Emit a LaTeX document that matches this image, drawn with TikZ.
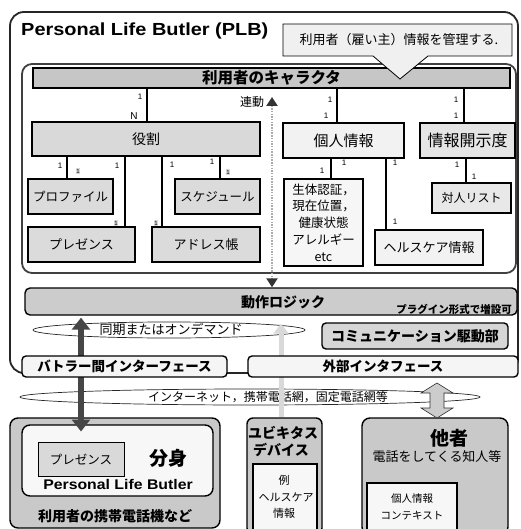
\documentclass[tikz,border=0pt]{standalone}
\usepackage{fontspec}
\setmainfont{Liberation Sans}
\newfontfamily\jp{Noto Sans CJK JP}
\usetikzlibrary{arrows.meta,calc}
\newcommand\myfs[1]{\fontsize{#1}{#1}\selectfont}
\begin{document}
\begin{tikzpicture}[x=1pt,y=-1pt,
  box/.style={draw=black,line width=1.4pt,inner sep=0pt,fill=gray!28},
  conn/.style={draw=black,line width=2pt},
  lbl/.style={font=\myfs{8},inner sep=0pt},
  badge/.style={font=\myfs{6},fill=gray!30,inner sep=0.8pt},
  bigbox/.style={draw=black,line width=1.4pt,rounded corners=8pt,inner sep=0pt,fill=gray!42},
  wbox/.style={draw=black,line width=1.4pt,inner sep=0pt,fill=gray!6},
  ring/.style={draw=gray!30!black,line width=0.7pt},
  ifbox/.style={draw=black,line width=1.4pt,rounded corners=4pt,inner sep=0pt,fill=gray!8,font=\jp\bfseries\myfs{13.5}},
]
\useasboundingbox (0,0) rectangle (520,529);

% outer PLB frame
\draw[line width=1.8pt,draw=gray!30!black,rounded corners=14pt] (10,12) rectangle (518,373);
\node[anchor=west,font=\bfseries\myfs{17.5},inner sep=0pt] (title) at (21,31) {\scalebox{1.14}[1]{Personal Life Butler (PLB)}};

% inner frame
\draw[line width=1.8pt,draw=gray!50!black,rounded corners=10pt] (22,64) rectangle (516,273);

% character bar
\node[box,fill=gray!45,minimum width=477pt,minimum height=20pt,font=\jp\bfseries\myfs{15.5}] (char) at (271.5,78) {利用者のキャラクタ};

% callout
\draw[fill=gray!12,draw=black,line width=0.8pt] (283,24) -- (512,24) -- (512,56) -- (428,56) -- (400,79) -- (373,56) -- (283,56) -- cycle;
\node[font=\jp\myfs{13},inner sep=0pt] (callout) at (399,40) {利用者（雇い主）情報を管理する.};

% role group
\node[box,fill=gray!30,minimum width=228pt,minimum height=34pt,font=\jp\myfs{14}] (role) at (146,139) {役割};
\node[box,minimum width=85pt,minimum height=35pt,font=\jp\myfs{12.5}] (prof) at (70.5,196.5) {プロファイル};
\node[box,minimum width=85pt,minimum height=35pt,font=\jp\myfs{12.5}] (sched) at (217.5,196.5) {スケジュール};
\node[box,minimum width=107pt,minimum height=35pt,font=\jp\myfs{13}] (pres) at (81.5,244.5) {プレゼンス};
\node[box,minimum width=108pt,minimum height=35pt,font=\jp\myfs{13}] (addr) at (206,244.5) {アドレス帳};

% personal info group
\node[box,fill=gray!10,minimum width=121pt,minimum height=35pt,font=\jp\myfs{15}] (pinfo) at (343.5,140.5) {個人情報};
\node[box,fill=gray!20,minimum width=95pt,minimum height=35pt,font=\jp\myfs{16}] (disc) at (467.5,140.5) {情報開示度};
\node[box,fill=gray!7,minimum width=79pt,minimum height=87pt,align=center,font=\jp\fontsize{12.5}{16.7}\selectfont] (bio) at (323.5,222.5) {生体認証，\\現在位置，\\健康状態\\アレルギー\\etc};
\node[box,fill=gray!10,minimum width=108pt,minimum height=35pt,font=\jp\myfs{13}] (health) at (429,247.5) {ヘルスケア情報};
\node[box,fill=gray!18,minimum width=79pt,minimum height=30pt,font=\jp\myfs{12}] (person) at (471.5,198) {対人リスト};

% connectors
\draw[conn] ($(role.north)+(1,0)$) -- ($(role.north |- char.south)+(1,0)$);
\draw[conn] ($(pinfo.north)+(-6.5,0)$) -- ($(pinfo.north |- char.south)+(-6.5,0)$);
\draw[conn] ($(disc.north)+(-3.5,0)$) -- ($(disc.north |- char.south)+(-3.5,0)$);
\draw[conn] ($(prof.north)+(-3.5,0)$) -- ($(prof.north |- role.south)+(-3.5,0)$);
\draw[conn] ($(pres.north east)+(-11,0)$) -- ($(pres.north east |- role.south)+(-11,0)$);
\draw[conn] ($(addr.north west)+(11,0)$) -- ($(addr.north west |- role.south)+(11,0)$);
\draw[conn] ($(sched.north)+(2.5,0)$) -- ($(sched.north |- role.south)+(2.5,0)$);
\draw[conn] ($(bio.north)+(7.5,0)$) -- ($(bio.north |- pinfo.south)+(7.5,0)$);
\draw[conn] ($(health.north west)+(12,0)$) -- ($(health.north west |- pinfo.south)+(12,0)$);
\draw[conn] ($(person.north)+(-5.5,0)$) -- ($(person.north |- disc.south)+(-5.5,0)$);

% multiplicities
\node[lbl] (m1) at (140,97) {1};
\node[lbl,font=\myfs{10}] (mN) at (134,116) {N};
\node[lbl] (m2) at (330,100) {1};
\node[lbl] (m3) at (326,116) {1};
\node[lbl] (m4) at (456,100) {1};
\node[lbl] (m5) at (456,116) {1};
\node[lbl] (m6) at (60,166) {1};
\node[badge] (b6) at (78,171) {1};
\node[lbl] (m7) at (117,166) {1};
\node[badge] (b7) at (116,223) {1};
\node[lbl] (m8) at (172,165) {1};
\node[badge] (b8) at (156,223) {1};
\node[lbl] (m9) at (212,162) {1};
\node[badge] (b9) at (228,172) {1};
\node[lbl] (m10) at (344,163) {1};
\node[lbl] (m11) at (322,171) {1};
\node[lbl] (m12) at (395,163) {1};
\node[lbl] (m13) at (395,222) {1};
\node[lbl] (m14) at (457,165) {1};
\node[lbl] (m15) at (474,177) {1};

% action logic
\node[box,fill=gray!40,rounded corners=5pt,minimum width=492pt,minimum height=27pt] (logic) at (271,301.5) {};
\node[font=\jp\bfseries\myfs{14},inner sep=0pt] (logicT) at (283,302) {動作ロジック};
\node[anchor=east,font=\jp\bfseries\myfs{10.5},inner sep=0pt] (plugin) at (512,309) {プラグイン形式で増設可};

% link dotted arrow
\coordinate (lt) at (272,97);
\node[font=\jp\myfs{12},inner sep=0pt] (rendo) at (252,102) {連動};
\draw[line width=2.6pt,draw=gray!65,dash pattern=on 1.5pt off 1.2pt,
  {Triangle[width=11pt,length=9pt,color=gray!40!black]}-{Triangle[width=11pt,length=9pt,color=gray!40!black]}]
  (lt) -- (lt |- logic.north);

% sync ellipse
\draw[ring] (169,330) ellipse [x radius=136pt,y radius=8pt];
\node[font=\jp\myfs{13},inner sep=0pt] (sync) at (171,330) {同期またはオンデマンド};

% communication driver
\node[box,fill=gray!32,rounded corners=4pt,minimum width=186pt,minimum height=26pt,font=\jp\bfseries\myfs{14}] (comm) at (415,336) {コミュニケーション駆動部};

% network ellipse
\draw[ring] (250,397) ellipse [x radius=230pt,y radius=8pt];
\node[font=\jp\myfs{12},inner sep=0pt] (net) at (268,397) {インターネット，携帯電話網，固定電話網等};

% bottom: user's phone
\node[bigbox,minimum width=210pt,minimum height=110pt] (phone) at (115,473) {};
\node[wbox,rounded corners=8pt,minimum width=191pt,minimum height=71pt] (mirror) at (117.5,460.5) {};
\node[box,fill=gray!30,line width=1pt,minimum width=86pt,minimum height=34pt,font=\jp\myfs{12.5}] (mpres) at (81,459) {プレゼンス};
\node[font=\jp\bfseries\myfs{19},inner sep=0pt] (bunshin) at (168,458) {分身};
\node[font=\bfseries\myfs{14},inner sep=0pt] (plb2) at (118,484) {\scalebox{1.13}[1]{Personal Life Butler}};
\node[font=\jp\bfseries\myfs{14},inner sep=0pt] (phoneT) at (115,516) {利用者の携帯電話機など};

% bottom: ubiquitous device
\node[bigbox,rounded corners=6pt,minimum width=75pt,minimum height=116pt] (ubiq) at (284.5,476) {};
\node[font=\jp\bfseries\myfs{14},inner sep=0pt] (ubiqT1) at (283,433) {ユビキタス};
\node[font=\jp\bfseries\myfs{14},inner sep=0pt] (ubiqT2) at (281,450) {デバイス};
\node[wbox,minimum width=64pt,minimum height=71pt] (ubin) at (285,499.5) {};
\node[font=\jp\myfs{11},inner sep=0pt] (ex1) at (284,480) {例};
\node[font=\jp\myfs{11},inner sep=0pt] (ex2) at (286,497) {ヘルスケア};
\node[font=\jp\myfs{11},inner sep=0pt] (ex3) at (284,513) {情報};

% bottom: others
\node[bigbox,minimum width=146pt,minimum height=117pt] (other) at (435,476.5) {};
\node[font=\jp\bfseries\myfs{19},inner sep=0pt] (otherT) at (449,438) {他者};
\node[font=\jp\myfs{13},inner sep=0pt] (otherS) at (437,457) {電話をしてくる知人等};
\node[wbox,minimum width=90pt,minimum height=52pt] (oin) at (412,509) {};
\node[font=\jp\myfs{10.5},inner sep=0pt] (oc1) at (412,499) {個人情報};
\node[font=\jp\myfs{10.5},inner sep=0pt] (oc2) at (412,516) {コンテキスト};

% arrows
\draw[line width=6pt,draw=gray!55!black,
  {Triangle[width=18pt,length=12pt]}-{Triangle[width=18pt,length=12pt]}]
  ($(logic.south -| mpres.north)+(0,2)$) -- ($(mpres.north)+(0,-10)$);
\draw[line width=5pt,draw=gray!30,-{Triangle[width=15pt,length=10pt]}]
  ($(ubiq.north)+(-3.5,0)$) -- ($(logic.south -| ubiq.north)+(-3.5,8)$);

% interfaces
\node[ifbox,minimum width=205pt,minimum height=21pt] (butif) at (124.5,366.5) {バトラー間インターフェース};
\node[ifbox,minimum width=270pt,minimum height=21pt] (extif) at (383,366.5) {外部インタフェース};

% hollow double arrow
\coordinate (hat) at (437,383);
\coordinate (hab) at (437,418);
\draw[fill=gray!40,draw=gray!40!black,line width=0.6pt] (hat) -- ++(16,10) -- ++(-9,0) -- ++(0,15) -- ++(9,0) -- (hab) -- ++(-16,-10) -- ++(9,0) -- ++(0,-15) -- ++(-9,0) -- cycle;
\end{tikzpicture}
\end{document}
